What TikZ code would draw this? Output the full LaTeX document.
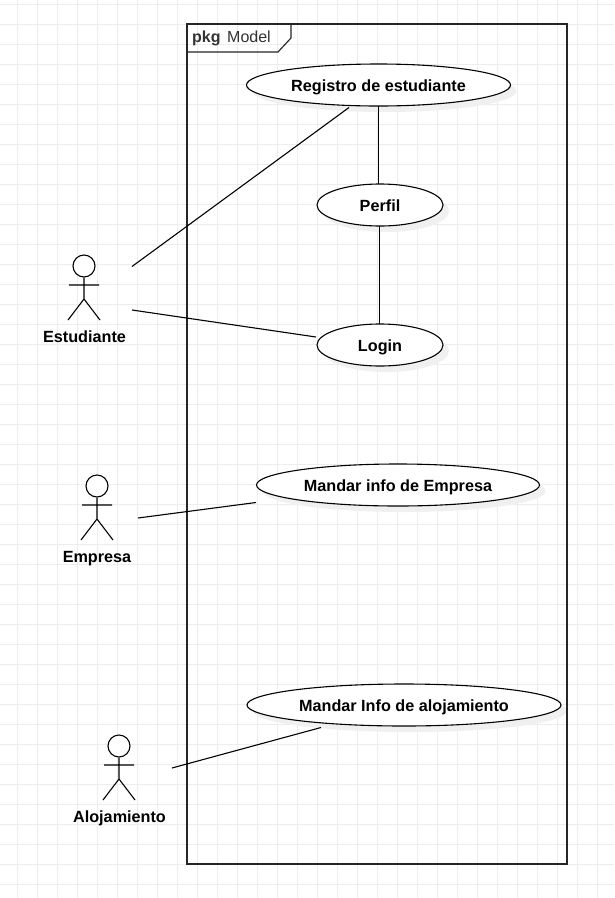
\documentclass[tikz,border=0pt]{standalone}
\usepackage{fontspec}
\usetikzlibrary{shapes.geometric}
\setmainfont{Liberation Sans}
\tikzset{
  uc/.style={ellipse,draw=black,line width=1.1pt,fill=white,inner sep=0pt,minimum height=42pt,text height=13pt,text depth=1pt,font=\fontsize{16.2}{18}\selectfont\bfseries,text=black},
  ucshadow/.style={ellipse,fill=black!6,draw=none,inner sep=0pt,minimum height=42pt},
  link/.style={draw=black,line width=1.1pt},
  actorline/.style={draw=black,line width=1.1pt},
  actorlabel/.style={anchor=base,font=\fontsize{16.2}{18}\selectfont\bfseries,text=black,inner sep=0pt},
  gridline/.style={draw=black!7,line width=0.9pt},
  frameline/.style={draw=black!85,line width=1.15pt}
}
\newcommand{\stickman}[3]{%
  \node[circle,draw=black,line width=1.1pt,fill=white,minimum size=22pt,inner sep=0pt] (#3head) at (#1,#2) {};
  \coordinate (#3hip) at (#1,#2+33);
  \coordinate (#3arml) at (#1-15,#2+19);
  \coordinate (#3armr) at (#1+15,#2+19);
  \coordinate (#3legl) at (#1-16,#2+54);
  \coordinate (#3legr) at (#1+16,#2+54);
  \draw[actorline] (#3head.south) -- (#3hip) -- (#3legl) (#3hip) -- (#3legr) (#3arml) -- (#3armr);
}
\begin{document}
\begin{tikzpicture}[x=1pt,y=-1pt]
\useasboundingbox (0,0) rectangle (614,898);
\fill[white] (0,0) rectangle (614,898);
\foreach \gx in {17,37,...,597} \draw[gridline] (\gx,0) -- (\gx,898);
\foreach \gy in {4,24,...,884} \draw[gridline] (0,\gy) -- (614,\gy);
% shadows
\node[ucshadow,minimum width=264pt] (s1) at (384.5,91) {};
\node[ucshadow,minimum width=126pt] (s2) at (386,211) {};
\node[ucshadow,minimum width=126pt] (s3) at (386,351) {};
\node[ucshadow,minimum width=283pt] (s4) at (404,491) {};
\node[ucshadow,minimum width=314pt] (s5) at (410,711) {};
% frame
\draw[frameline] (187,24) rectangle (567,864);
\coordinate (tabtr) at (291,24);
\draw[frameline] (tabtr) -- (291,38) -- (278,52) -- (187,52);
\node[anchor=base west,inner sep=0pt,font=\fontsize{16}{18}\selectfont\bfseries,text=black!80] (pkg) at (192,42.5) {pkg};
\node[anchor=base west,inner sep=0pt,font=\fontsize{16}{18}\selectfont,text=black!80] (model) at (227,42.5) {Model};
% use cases
\node[uc,minimum width=264pt] (reg) at (378.5,85) {Registro de estudiante};
\node[uc,minimum width=126pt] (perfil) at (380,205) {Perfil};
\node[uc,minimum width=126pt] (login) at (380,345) {Login};
\node[uc,minimum width=283pt] (empinfo) at (398,485) {Mandar info de Empresa};
\node[uc,minimum width=314pt] (aloinfo) at (404,705) {Mandar Info de alojamiento};
% actors
\stickman{84}{266}{est}
\stickman{97}{486}{emp}
\stickman{119}{746}{alo}
\node[actorlabel] (estl) at (84.5,342) {Estudiante};
\node[actorlabel] (empl) at (97,562) {Empresa};
\node[actorlabel] (alol) at (119.5,822) {Alojamiento};
% connector ends
\coordinate (c1a) at (132,266.5);
\coordinate (c1b) at (349,107.5);
\coordinate (c2a) at (132,310);
\coordinate (c2b) at (316,337);
\coordinate (c3a) at (138,518);
\coordinate (c3b) at (256,502.5);
\coordinate (c4a) at (172,768);
\coordinate (c4b) at (321,727.5);
\coordinate (c5a) at (378.5,106);
\coordinate (c5b) at (378.5,184);
\coordinate (c6a) at (379.5,226);
\coordinate (c6b) at (379.5,324);
\draw[link] (c1a) -- (c1b);
\draw[link] (c2a) -- (c2b);
\draw[link] (c3a) -- (c3b);
\draw[link] (c4a) -- (c4b);
\draw[link] (c5a) -- (c5b);
\draw[link] (c6a) -- (c6b);
\end{tikzpicture}
\end{document}
